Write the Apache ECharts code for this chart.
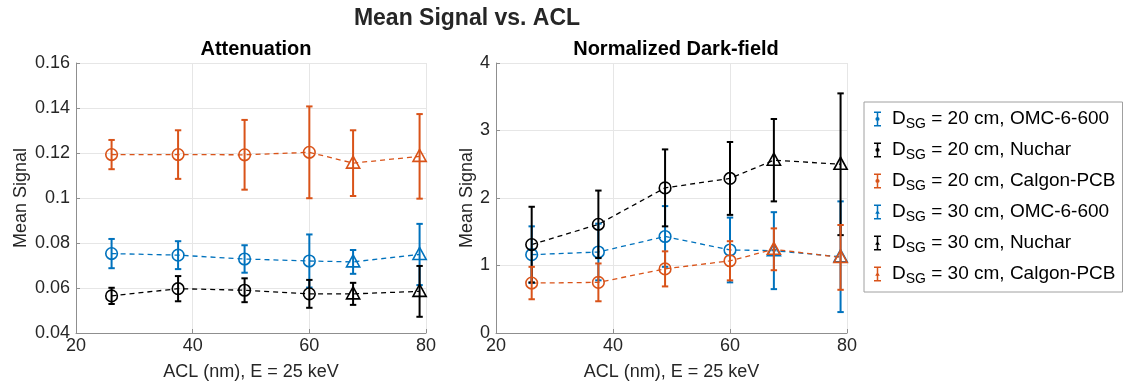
<!DOCTYPE html>
<html>
<head>
<meta charset="utf-8">
<script src="https://cdn.jsdelivr.net/npm/echarts@6/dist/echarts.min.js"></script>
<style>html,body{margin:0;padding:0;background:#fff;}#c{width:1126px;height:389px;}</style>
</head>
<body>
<div id="c"></div>
<script>
// ACL positions (nm)
const acl20 = [26.1, 37.5, 48.9, 60.0];
const acl30 = [67.5, 78.9];

// Attenuation: means and error half-widths
const attOMC20 = [0.0753, 0.0746, 0.0729, 0.0720];
const attOMC20Err = [0.0065, 0.0062, 0.0061, 0.0118];
const attOMC30 = [0.0716, 0.0749];
const attOMC30Err = [0.0053, 0.0136];
const attNuc20 = [0.0565, 0.0597, 0.0590, 0.0574];
const attNuc20Err = [0.0036, 0.0056, 0.0053, 0.0062];
const attNuc30 = [0.0574, 0.0585];
const attNuc30Err = [0.0049, 0.0113];
const attCal20 = [0.1193, 0.1193, 0.1192, 0.1203];
const attCal20Err = [0.0065, 0.0108, 0.0155, 0.0204];
const attCal30 = [0.1155, 0.1185];
const attCal30Err = [0.0146, 0.0188];

// Normalized dark-field: means and error half-widths
const dfOMC20 = [1.16, 1.20, 1.43, 1.23];
const dfOMC20Err = [0.42, 0.42, 0.45, 0.48];
const dfOMC30 = [1.22, 1.13];
const dfOMC30Err = [0.57, 0.82];
const dfNuc20 = [1.31, 1.61, 2.15, 2.29];
const dfNuc20Err = [0.56, 0.50, 0.57, 0.54];
const dfNuc30 = [2.56, 2.50];
const dfNuc30Err = [0.61, 1.05];
const dfCal20 = [0.74, 0.75, 0.95, 1.07];
const dfCal20Err = [0.24, 0.28, 0.26, 0.29];
const dfCal30 = [1.24, 1.12];
const dfCal30Err = [0.31, 0.48];

const names = [
  'DSG = 20 cm, OMC-6-600', 'DSG = 20 cm, Nuchar', 'DSG = 20 cm, Calgon-PCB',
  'DSG = 30 cm, OMC-6-600', 'DSG = 30 cm, Nuchar', 'DSG = 30 cm, Calgon-PCB'
];
const xTicks = [20, 40, 60, 80];

const BLUE = '#0072BD', ORANGE = '#D95319', BLACK = '#000000';
const FONT = '"Liberation Sans", Arial, Helvetica, sans-serif';
const TXT = '#262626';

function pts(xs, m, e) { return xs.map((x, i) => [x, m[i], m[i] - e[i], m[i] + e[i]]); }

function render(shape) {
  return function (params, api) {
    const x = api.value(0), y = api.value(1), lo = api.value(2), hi = api.value(3);
    const p = api.coord([x, y]), pl = api.coord([x, lo]), ph = api.coord([x, hi]);
    const c = api.visual('color');
    const cap = 3.2, lw = 2;
    const st = { stroke: c, lineWidth: lw, fill: null };
    const ch = [
      { type: 'line', shape: { x1: pl[0], y1: pl[1], x2: ph[0], y2: ph[1] }, style: st },
      { type: 'line', shape: { x1: ph[0] - cap, y1: ph[1], x2: ph[0] + cap, y2: ph[1] }, style: st },
      { type: 'line', shape: { x1: pl[0] - cap, y1: pl[1], x2: pl[0] + cap, y2: pl[1] }, style: st }
    ];
    const ms = { stroke: c, lineWidth: 1.6, fill: null };
    if (shape === 'circle') {
      ch.push({ type: 'circle', shape: { cx: p[0], cy: p[1], r: 5.8 }, style: ms });
    } else {
      ch.push({ type: 'polygon', shape: { points: [[p[0], p[1] - 7], [p[0] + 6.6, p[1] + 5], [p[0] - 6.6, p[1] + 5]] }, style: ms });
    }
    return { type: 'group', children: ch };
  };
}

function errSeries(name, idx, color, shape, data) {
  return {
    type: 'custom', name: name, xAxisIndex: idx, yAxisIndex: idx,
    itemStyle: { color: color },
    renderItem: render(shape),
    encode: { x: 0, y: [1, 2, 3] },
    data: data, z: 3, clip: false
  };
}
function lineSeries(idx, color, xs, ys) {
  return {
    type: 'line', xAxisIndex: idx, yAxisIndex: idx, showSymbol: false, symbol: 'none',
    silent: true, z: 2, legendHoverLink: false,
    lineStyle: { color: color, width: 1.3, type: [5, 4] },
    data: xs.map((x, i) => [x, ys[i]])
  };
}

const allX = acl20.concat(acl30);
const series = [
  lineSeries(0, BLUE, allX, attOMC20.concat(attOMC30)),
  lineSeries(0, BLACK, allX, attNuc20.concat(attNuc30)),
  lineSeries(0, ORANGE, allX, attCal20.concat(attCal30)),
  lineSeries(1, BLUE, allX, dfOMC20.concat(dfOMC30)),
  lineSeries(1, BLACK, allX, dfNuc20.concat(dfNuc30)),
  lineSeries(1, ORANGE, allX, dfCal20.concat(dfCal30)),
  errSeries(names[0], 0, BLUE, 'circle', pts(acl20, attOMC20, attOMC20Err)),
  errSeries(names[1], 0, BLACK, 'circle', pts(acl20, attNuc20, attNuc20Err)),
  errSeries(names[2], 0, ORANGE, 'circle', pts(acl20, attCal20, attCal20Err)),
  errSeries(names[3], 0, BLUE, 'triangle', pts(acl30, attOMC30, attOMC30Err)),
  errSeries(names[4], 0, BLACK, 'triangle', pts(acl30, attNuc30, attNuc30Err)),
  errSeries(names[5], 0, ORANGE, 'triangle', pts(acl30, attCal30, attCal30Err)),
  errSeries(names[0], 1, BLUE, 'circle', pts(acl20, dfOMC20, dfOMC20Err)),
  errSeries(names[1], 1, BLACK, 'circle', pts(acl20, dfNuc20, dfNuc20Err)),
  errSeries(names[2], 1, ORANGE, 'circle', pts(acl20, dfCal20, dfCal20Err)),
  errSeries(names[3], 1, BLUE, 'triangle', pts(acl30, dfOMC30, dfOMC30Err)),
  errSeries(names[4], 1, BLACK, 'triangle', pts(acl30, dfNuc30, dfNuc30Err)),
  errSeries(names[5], 1, ORANGE, 'triangle', pts(acl30, dfCal30, dfCal30Err))
];

const iconCircle = 'path://M0,0 L7,0 L7,1.5 L0,1.5 Z M2.75,0 L4.25,0 L4.25,15 L2.75,15 Z M0,13.5 L7,13.5 L7,15 L0,15 Z M5.6,7.5 A2.1,2.1 0 1,1 1.4,7.5 A2.1,2.1 0 1,1 5.6,7.5 Z';
const iconTri = 'path://M0,0 L7,0 L7,1.5 L0,1.5 Z M2.75,0 L4.25,0 L4.25,15 L2.75,15 Z M0,13.5 L7,13.5 L7,15 L0,15 Z M3.5,5.2 L5.8,9.3 L1.2,9.3 Z';

function xAx(idx) {
  return {
    gridIndex: idx, type: 'value', min: 20, max: 80, interval: 20,
    name: 'ACL (nm), E = 25 keV', nameLocation: 'middle', nameGap: 30,
    nameTextStyle: { fontFamily: FONT, fontSize: 18, color: TXT },
    axisLine: { show: true, lineStyle: { color: '#8f8f8f', width: 1 } },
    axisTick: { show: true, inside: true, length: 4, lineStyle: { color: '#8f8f8f' } },
    axisLabel: { fontFamily: FONT, fontSize: 18, color: TXT, margin: 4 },
    splitLine: { show: true, lineStyle: { color: '#e6e6e6', width: 1 } }
  };
}
function yAx(idx, min, max, interval, gap) {
  return {
    gridIndex: idx, type: 'value', min: min, max: max, interval: interval,
    name: 'Mean Signal', nameLocation: 'middle', nameGap: gap,
    nameTextStyle: { fontFamily: FONT, fontSize: 18, color: TXT },
    axisLine: { show: true, lineStyle: { color: '#8f8f8f', width: 1 } },
    axisTick: { show: true, inside: true, length: 4, lineStyle: { color: '#8f8f8f' } },
    axisLabel: { fontFamily: FONT, fontSize: 18, color: TXT, margin: 6,
      formatter: v => String(parseFloat(v.toFixed(4))) },
    splitLine: { show: true, lineStyle: { color: '#e6e6e6', width: 1 } }
  };
}

const chart = echarts.init(document.getElementById('c'), null, { renderer: 'canvas' });
chart.setOption({
  animation: false,
  backgroundColor: '#ffffff',
  title: [
    { text: 'Mean Signal vs. ACL', left: 462, top: 2, textAlign: 'center',
      textStyle: { fontFamily: FONT, fontSize: 23, fontWeight: 'bold', color: TXT } },
    { text: 'Attenuation', left: 251, top: 34, textAlign: 'center',
      textStyle: { fontFamily: FONT, fontSize: 20, fontWeight: 'bold', color: '#000' } },
    { text: 'Normalized Dark-field', left: 671, top: 34, textAlign: 'center',
      textStyle: { fontFamily: FONT, fontSize: 20, fontWeight: 'bold', color: '#000' } }
  ],
  grid: [
    { left: 76, top: 63, width: 350, height: 270 },
    { left: 496, top: 63, width: 351, height: 270 }
  ],
  xAxis: [xAx(0), xAx(1)],
  yAxis: [yAx(0, 0.04, 0.16, 0.02, 46), yAx(1, 0, 4, 1, 20)],
  legend: {
    orient: 'vertical', left: 864, top: 102,
    padding: [4, 7, 5, 10], itemGap: 5,
    itemWidth: 7, itemHeight: 15,
    borderColor: '#a0a0a0', borderWidth: 1, backgroundColor: '#fff',
    selectedMode: false,
    data: names.map((n, i) => ({ name: n, icon: i < 3 ? iconCircle : iconTri })),
    formatter: n => 'D{sub|SG}' + n.slice(3),
    textStyle: { fontFamily: FONT, fontSize: 19, color: '#000', lineHeight: 26, padding: [0, 0, 0, 6],
      rich: { sub: { fontFamily: FONT, fontSize: 14, color: '#000', padding: [10, 0, 0, 0] } } }
  },
  series: series
});
</script>
</body>
</html>
